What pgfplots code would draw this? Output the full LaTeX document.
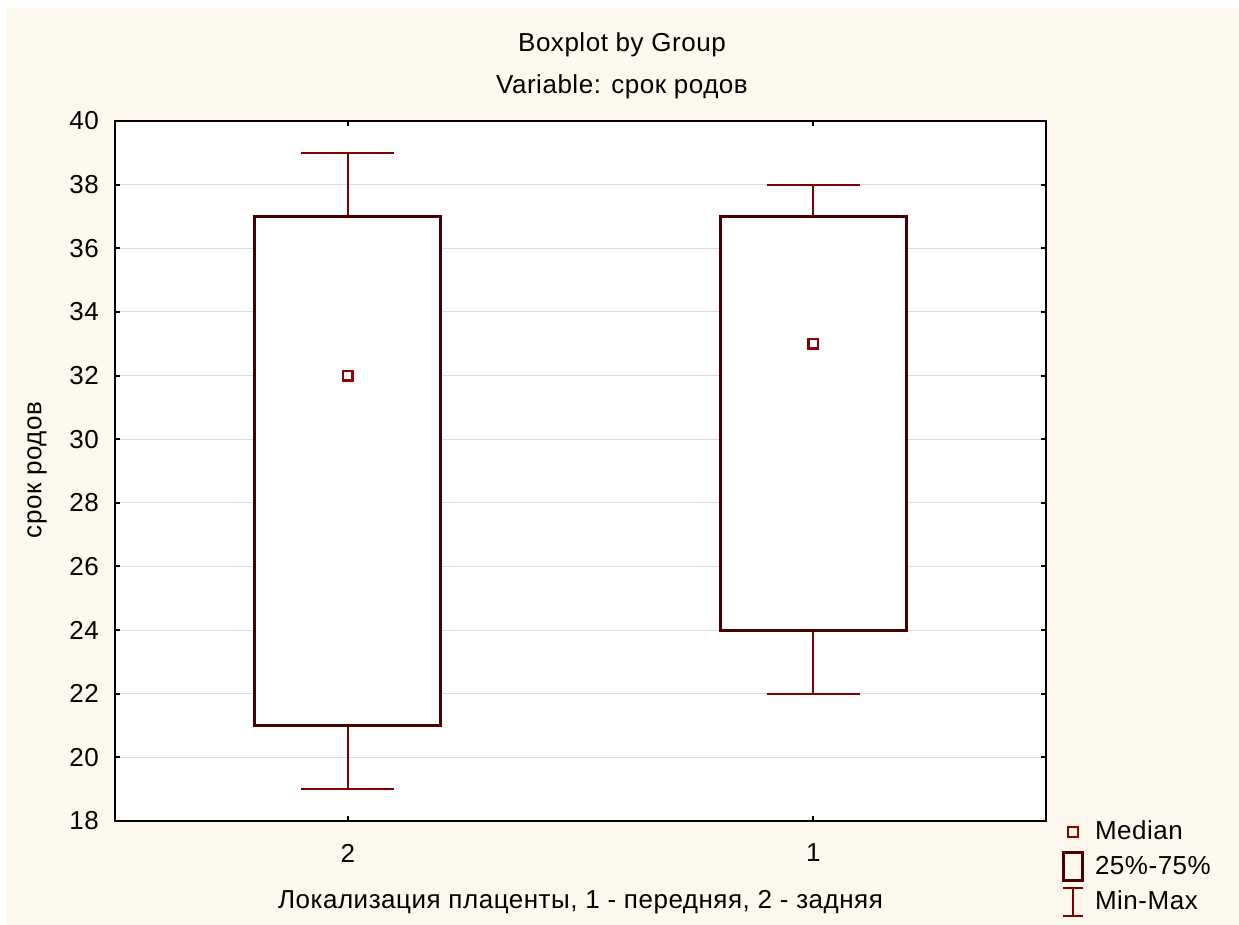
\documentclass[border=0pt]{standalone}
\usepackage{fontspec}
\setmainfont{Liberation Sans}[LetterSpace=2]
\usepackage{pgfplots}
\pgfplotsset{compat=1.18}
\definecolor{cream}{HTML}{FDF8EE}
\definecolor{boxc}{HTML}{4A0000}
\definecolor{whisk}{HTML}{800000}
\definecolor{medc}{HTML}{8B0000}
\definecolor{gridc}{HTML}{DCDCDC}
\begin{document}
\fontsize{13}{15}\selectfont
\begin{tikzpicture}
\fill[white] (0pt,0pt) rectangle (619.5pt,-462.5pt);
\fill[cream] (3.5pt,-4pt) rectangle (619.5pt,-462.5pt);
\begin{axis}[
  at={(57.5pt,-410.5pt)}, anchor=south west,
  scale only axis, width=465.5pt, height=350pt,
  xmin=0.5, xmax=2.5, ymin=18, ymax=40,
  xtick={1,2}, xticklabels={2,1},
  ytick={18,20,...,40},
  tick align=inside,
  major tick length=2.5pt,
  axis line style={line width=1.2pt},
  ymajorgrids, grid style={gridc, line width=0.5pt},
  axis background/.style={fill=white},
  tick style={black, line width=1pt},
  ticklabel style={font=\fontsize{13}{15}\selectfont},
  /pgf/number format/assume math mode=true,
  yticklabel style={xshift=-3.5pt},
  xticklabel style={yshift=-7pt},
  clip=false,
  legend style={at={(1.0172,0.0093)}, anchor=north west, draw=none, fill=none,
    inner sep=0pt, outer sep=0pt, row sep=0pt,
    font=\fontsize{13}{15}\selectfont,
    nodes={inner sep=1pt},
    /tikz/every odd column/.append style={column sep=4.5pt}},
  legend cell align=left,
]
% whiskers
\addplot[whisk, line width=1pt, forget plot] coordinates {(1,37) (1,39)};
\addplot[whisk, line width=1pt, forget plot] coordinates {(0.9,39) (1.1,39)};
\addplot[whisk, line width=1pt, forget plot] coordinates {(1,21) (1,19)};
\addplot[whisk, line width=1pt, forget plot] coordinates {(0.9,19) (1.1,19)};
\addplot[whisk, line width=1pt, forget plot] coordinates {(2,37) (2,38)};
\addplot[whisk, line width=1pt, forget plot] coordinates {(1.9,38) (2.1,38)};
\addplot[whisk, line width=1pt, forget plot] coordinates {(2,24) (2,22)};
\addplot[whisk, line width=1pt, forget plot] coordinates {(1.9,22) (2.1,22)};
% boxes
\addplot[boxc, line width=1.5pt, fill=white, forget plot] coordinates {(0.8,21) (1.2,21) (1.2,37) (0.8,37)} --cycle;
\addplot[boxc, line width=1.5pt, fill=white, forget plot] coordinates {(1.8,24) (2.2,24) (2.2,37) (1.8,37)} --cycle;
% medians
\addplot[only marks, mark=square, mark size=2.4pt, medc, mark options={line width=1.2pt}, forget plot] coordinates {(1,32) (2,33)};
% legend
\addlegendimage{legend image code/.code={
  \path[draw=none,fill=none] (-5.5pt,-8.75pt) rectangle (5.5pt,8.75pt);
  \draw[medc, line width=1.2pt, fill=none] (-2.4pt,-2.4pt) rectangle (2.4pt,2.4pt);}}
\addlegendentry{Median}
\addlegendimage{legend image code/.code={
  \path[draw=none,fill=none] (-5.5pt,-8.75pt) rectangle (5.5pt,8.75pt);
  \draw[boxc, line width=1.5pt, fill=none] (-4.6pt,-7pt) rectangle (4.6pt,7pt);}}
\addlegendentry{25\%-75\%}
\addlegendimage{legend image code/.code={
  \path[draw=none,fill=none] (-5.5pt,-8.75pt) rectangle (5.5pt,8.75pt);
  \draw[whisk, line width=1pt] (0pt,-7pt) -- (0pt,7pt) (-5pt,-7pt) -- (5pt,-7pt) (-5pt,7pt) -- (5pt,7pt);}}
\addlegendentry{Min-Max}
\end{axis}
\node at (311pt,-22.5pt) {Boxplot by Group};
\node at (311pt,-43.5pt) {Variable: срок родов};
\node at (290.25pt,-451pt) {Локализация плаценты, 1 - передняя, 2 - задняя};
\node[rotate=90] at (18.5pt,-235pt) {срок родов};
\end{tikzpicture}
\end{document}
